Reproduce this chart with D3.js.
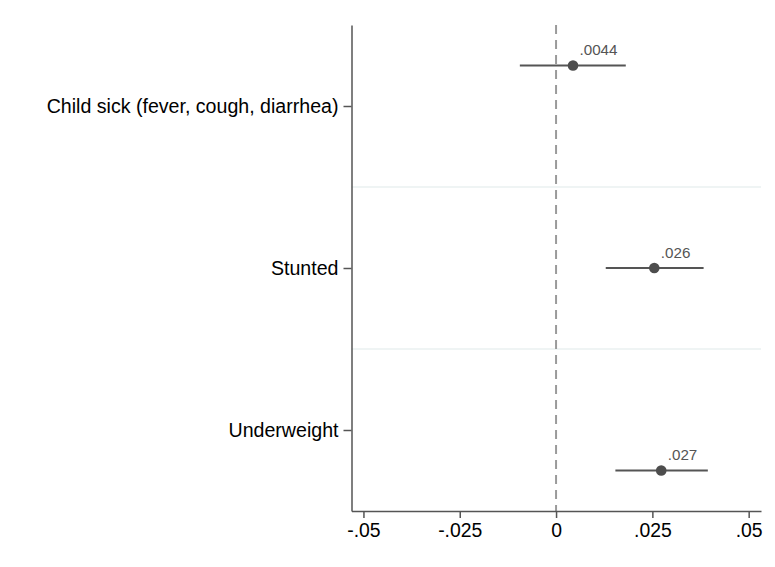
<!DOCTYPE html>
<html><head><meta charset="utf-8">
<script src="https://cdn.jsdelivr.net/npm/d3@7"></script>
<style>body{margin:0;background:#fff}svg{display:block}text{font-family:Arial,"Liberation Sans",sans-serif}</style>
</head><body>
<script>
const categories = ["Child sick (fever, cough, diarrhea)", "Stunted", "Underweight"];
const categoryPos = [1, 2, 3];
const estimates = [0.0044, 0.0255, 0.0273];
const ciLow = [-0.0094, 0.0129, 0.0154];
const ciHigh = [0.0181, 0.0383, 0.0394];
const pointPos = [0.75, 2, 3.25];
const valueLabels = [".0044", ".026", ".027"];
const xTicks = [-0.05, -0.025, 0, 0.025, 0.05];
const xTickLabels = ["-.05", "-.025", "0", ".025", ".05"];
const gridPos = [1.5, 2.5];

const W = 775, H = 567;
const svg = d3.select("body").append("svg").attr("width", W).attr("height", H);

const x = d3.scaleLinear().domain([-0.0531, 0.0532]).range([351.5, 761]);
const y = d3.scaleLinear().domain([0.5, 3.5]).range([25, 511]);

// grid lines
svg.append("g").selectAll("line").data(gridPos).join("line")
  .attr("x1", x.range()[0]).attr("x2", x.range()[1])
  .attr("y1", d => y(d)).attr("y2", d => y(d))
  .attr("stroke", "#eaf0f1").attr("stroke-width", 1.5);

// zero line
svg.append("line")
  .attr("x1", x(0)).attr("x2", x(0))
  .attr("y1", y.range()[0]).attr("y2", y.range()[1])
  .attr("stroke", "#9a9a9a").attr("stroke-width", 2)
  .attr("stroke-dasharray", "9,6");

// x axis
const xAxis = d3.axisBottom(x).tickValues(xTicks)
  .tickFormat((d, i) => xTickLabels[i]).tickSize(7).tickPadding(5).tickSizeOuter(0);
const gx = svg.append("g").attr("transform", `translate(0,${y.range()[1]})`).call(xAxis);
gx.select(".domain").attr("stroke", "#555").attr("stroke-width", 1.5);
gx.selectAll(".tick line").attr("stroke", "#555").attr("stroke-width", 1.5);
gx.selectAll(".tick text").attr("font-size", "19.4px").attr("fill", "#000")
  .attr("font-family", "Arial, 'Liberation Sans', sans-serif");

// y axis
const yAxis = d3.axisLeft(y).tickValues(categoryPos)
  .tickFormat((d, i) => categories[i]).tickSize(8).tickPadding(5).tickSizeOuter(0);
const gy = svg.append("g").attr("transform", `translate(${x.range()[0]},0)`).call(yAxis);
gy.select(".domain").attr("stroke", "#555").attr("stroke-width", 1.5);
gy.selectAll(".tick line").attr("stroke", "#555").attr("stroke-width", 1.5);
gy.selectAll(".tick text").attr("font-size", "19.6px").attr("fill", "#000")
  .attr("font-family", "Arial, 'Liberation Sans', sans-serif");

// CIs
const data = categories.map((c, i) => ({c, est: estimates[i], lo: ciLow[i], hi: ciHigh[i], p: pointPos[i], lab: valueLabels[i]}));
svg.append("g").selectAll("line").data(data).join("line")
  .attr("x1", d => x(d.lo)).attr("x2", d => x(d.hi))
  .attr("y1", d => y(d.p)).attr("y2", d => y(d.p))
  .attr("stroke", "#555").attr("stroke-width", 2);

svg.append("g").selectAll("circle").data(data).join("circle")
  .attr("cx", d => x(d.est)).attr("cy", d => y(d.p)).attr("r", 5.3)
  .attr("fill", "#4d4d4d");

svg.append("g").selectAll("text").data(data).join("text")
  .attr("x", d => x(d.est) + 6.5).attr("y", d => y(d.p) - 10.5)
  .attr("font-size", "15.2px").attr("fill", "#555")
  .text(d => d.lab);
</script>
</body></html>
